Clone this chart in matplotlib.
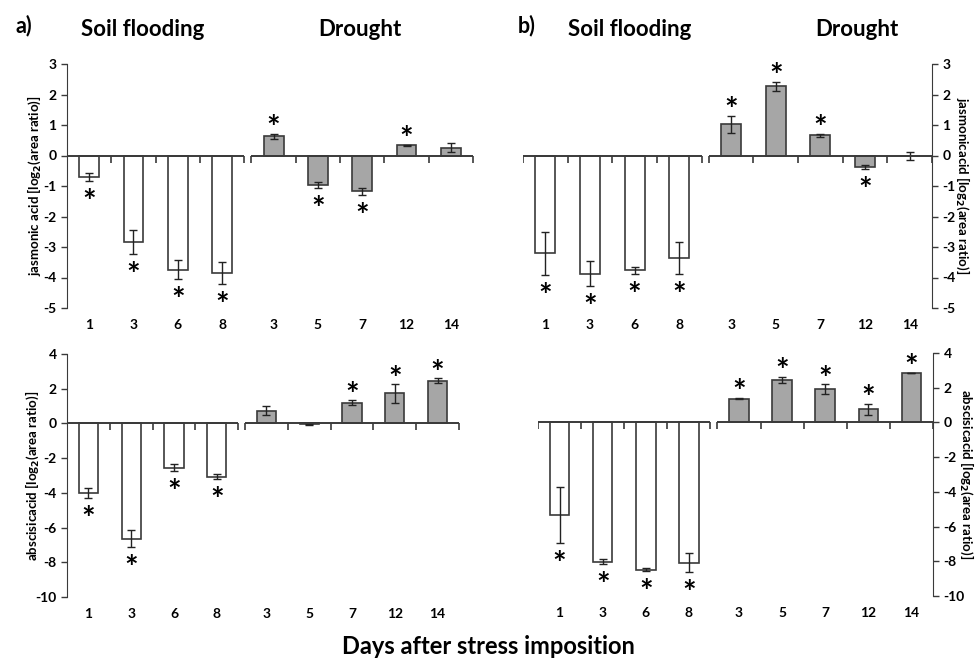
import numpy as np
import matplotlib
matplotlib.use("Agg")
import matplotlib.pyplot as plt
from matplotlib.markers import TICKDOWN

plt.rcParams['font.family'] = ['Lato', 'DejaVu Sans']
plt.rcParams['font.weight'] = 'bold'
plt.rcParams['axes.unicode_minus'] = False

flood_days = ["1", "3", "6", "8"]
drought_days = ["3", "5", "7", "12", "14"]

# a) jasmonic acid
ja_a_flood = [-0.71, -2.84, -3.74, -3.85]
ja_a_flood_err = [0.12, 0.40, 0.32, 0.37]
ja_a_flood_sig = [1, 1, 1, 1]
ja_a_drought = [0.63, -0.98, -1.18, 0.34, 0.26]
ja_a_drought_err = [0.08, 0.10, 0.12, 0.02, 0.16]
ja_a_drought_sig = [1, 1, 1, 1, 0]

# b) jasmonic acid
ja_b_flood = [-3.21, -3.88, -3.77, -3.37]
ja_b_flood_err = [0.71, 0.41, 0.12, 0.52]
ja_b_flood_sig = [1, 1, 1, 1]
ja_b_drought = [1.03, 2.27, 0.67, -0.38, -0.02]
ja_b_drought_err = [0.28, 0.14, 0.05, 0.06, 0.13]
ja_b_drought_sig = [1, 1, 1, 1, 0]

# a) abscisic acid
aba_a_flood = [-4.02, -6.63, -2.54, -3.06]
aba_a_flood_err = [0.29, 0.48, 0.19, 0.15]
aba_a_flood_sig = [1, 1, 1, 1]
aba_a_drought = [0.73, -0.06, 1.19, 1.73, 2.46]
aba_a_drought_err = [0.25, 0.03, 0.15, 0.53, 0.14]
aba_a_drought_sig = [0, 0, 1, 1, 1]

# b) abscisic acid
aba_b_flood = [-5.34, -8.03, -8.48, -8.09]
aba_b_flood_err = [1.60, 0.15, 0.10, 0.55]
aba_b_flood_sig = [1, 1, 1, 1]
aba_b_drought = [1.37, 2.43, 1.93, 0.75, 2.87]
aba_b_drought_err = [0.03, 0.18, 0.27, 0.31, 0.0]
aba_b_drought_sig = [1, 1, 1, 1, 1]

GAP = 0.16
EDGE = "#3a3a3a"
GREY = "#a6a6a6"


def panel(ax, flood, flood_err, flood_sig, drought, drought_err, drought_sig,
          ylim, yticks, ylabel, side, label_x):
    xf = np.arange(len(flood)) + 0.5
    xd = np.arange(len(drought)) + 0.5 + len(flood) + GAP
    xmax = len(flood) + len(drought) + GAP

    ax.bar(xf, flood, width=0.45, color="white", edgecolor=EDGE, linewidth=1.2, zorder=2)
    ax.bar(xd, drought, width=0.45, color=GREY, edgecolor=EDGE, linewidth=1.2, zorder=2)
    ax.errorbar(xf, flood, yerr=flood_err, fmt="none", ecolor="#222222",
                elinewidth=1, capsize=3, capthick=1, zorder=3)
    ax.errorbar(xd, drought, yerr=drought_err, fmt="none", ecolor="#222222",
                elinewidth=1, capsize=3, capthick=1, zorder=3)

    # broken zero line with category ticks
    ax.hlines(0, 0, len(flood), color=EDGE, linewidth=1.4, zorder=4)
    ax.hlines(0, len(flood) + GAP, xmax, color=EDGE, linewidth=1.4, zorder=4)
    bf = np.arange(len(flood) + 1, dtype=float)
    bd = np.arange(len(drought) + 1) + len(flood) + GAP
    ax.plot(bf, np.zeros_like(bf), ls="none", marker=TICKDOWN, ms=5, mew=1.2, color=EDGE, zorder=4)
    ax.plot(bd, np.zeros_like(bd), ls="none", marker=TICKDOWN, ms=5, mew=1.2, color=EDGE, zorder=4)

    # significance stars
    for x, v, e, s in zip(np.concatenate([xf, xd]), flood + drought,
                          flood_err + drought_err, flood_sig + drought_sig):
        if not s:
            continue
        if v >= 0:
            ax.annotate("*", (x, v + e), xytext=(0, 3), textcoords="offset points",
                        ha="center", va="center", fontsize=23, fontweight="bold")
        else:
            ax.annotate("*", (x, v - e), xytext=(0, -16), textcoords="offset points",
                        ha="center", va="center", fontsize=23, fontweight="bold")

    ax.set_xlim(0, xmax)
    ax.set_ylim(*ylim)
    ax.set_yticks(yticks)
    ax.set_xticks(np.concatenate([xf, xd]))
    ax.set_xticklabels(flood_days + drought_days, fontsize=10, fontweight="bold")
    ax.tick_params(axis="x", length=0, pad=8)
    ax.tick_params(axis="y", labelsize=10, length=4, width=1, color=EDGE)
    for lab in ax.get_yticklabels():
        lab.set_fontweight("bold")
    for sp in ["top", "bottom", "left", "right"]:
        ax.spines[sp].set_visible(False)
    if side == "left":
        ax.spines["left"].set_visible(True)
        ax.spines["left"].set_color(EDGE)
        ax.set_ylabel(ylabel, fontsize=9.5, fontweight="bold")
    else:
        ax.spines["right"].set_visible(True)
        ax.spines["right"].set_color(EDGE)
        ax.yaxis.tick_right()
        ax.yaxis.set_label_position("right")
        ax.set_ylabel(ylabel, fontsize=9.5, fontweight="bold", rotation=270)
    ax.yaxis.label.set_va("center")
    ax.yaxis.set_label_coords(label_x, 0.5)


fig = plt.figure(figsize=(9.76, 6.58), dpi=100)

ax1 = fig.add_axes([67 / 976, 1 - 308 / 658, 406 / 976, 244 / 658])
ax2 = fig.add_axes([523 / 976, 1 - 308 / 658, 409 / 976, 244 / 658])
ax3 = fig.add_axes([67 / 976, 1 - 597 / 658, 392 / 976, 243 / 658])
ax4 = fig.add_axes([538 / 976, 1 - 596 / 658, 395 / 976, 243 / 658])

panel(ax1, ja_a_flood, ja_a_flood_err, ja_a_flood_sig, ja_a_drought, ja_a_drought_err,
      ja_a_drought_sig, (-5, 3), range(-5, 4), "jasmonic acid [log$_2$(area ratio)]", "left",
      (34 - 67) / 406)
panel(ax2, ja_b_flood, ja_b_flood_err, ja_b_flood_sig, ja_b_drought, ja_b_drought_err,
      ja_b_drought_sig, (-5, 3), range(-5, 4), "jasmonicacid [log$_2$(area ratio)]", "right",
      (963 - 523) / 409)
panel(ax3, aba_a_flood, aba_a_flood_err, aba_a_flood_sig, aba_a_drought, aba_a_drought_err,
      aba_a_drought_sig, (-10, 4), range(-10, 5, 2), "abscisicacid [log$_2$(area ratio)]", "left",
      (32 - 67) / 392)
panel(ax4, aba_b_flood, aba_b_flood_err, aba_b_flood_sig, aba_b_drought, aba_b_drought_err,
      aba_b_drought_sig, (-10, 4), range(-10, 5, 2), "abscisicacid [log$_2$(area ratio)]", "right",
      (967 - 538) / 395)

fig.text(15 / 976, 1 - 26 / 658, "a)", fontsize=15.5, fontweight="bold", ha="left", va="center")
fig.text(518 / 976, 1 - 26 / 658, "b)", fontsize=15.5, fontweight="bold", ha="left", va="center")
for cx, t in [(143, "Soil flooding"), (360, "Drought"), (630, "Soil flooding"), (857, "Drought")]:
    fig.text(cx / 976, 1 - 30 / 658, t, fontsize=16, fontweight="bold", ha="center", va="center")
fig.text(488 / 976, 1 - 646 / 658, "Days after stress imposition", fontsize=17,
         fontweight="bold", ha="center", va="center")

fig.savefig("out.png", dpi=100)
